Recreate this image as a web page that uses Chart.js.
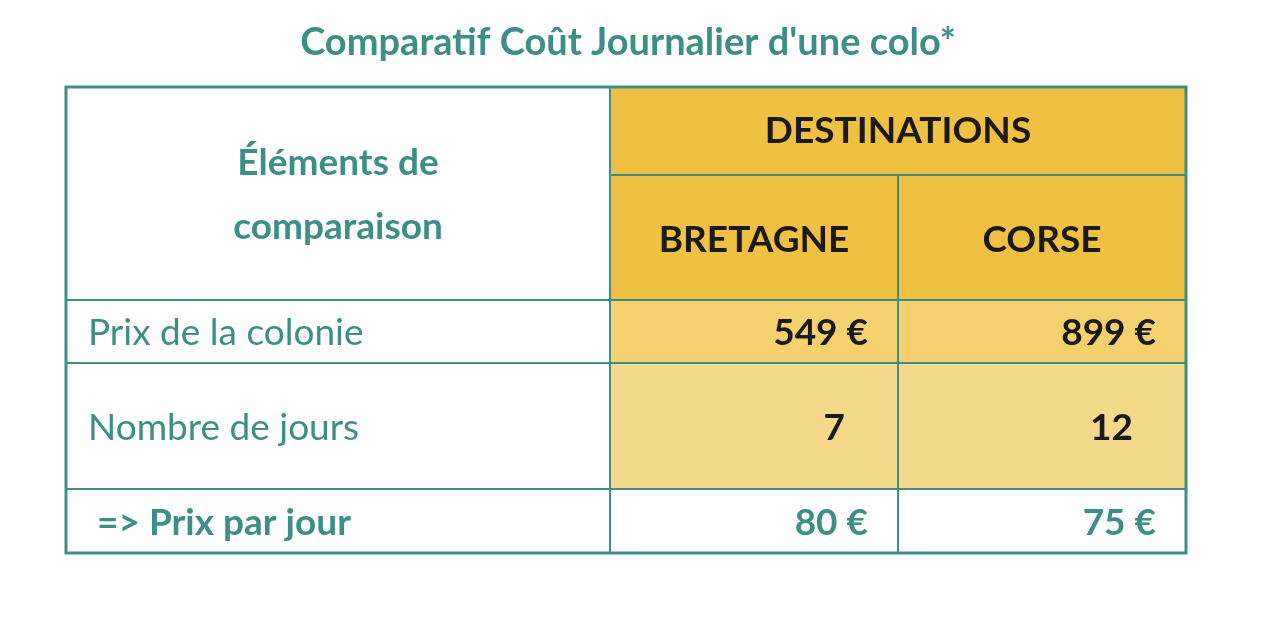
<!DOCTYPE html>
<html><head><meta charset="utf-8">
<script src="https://cdn.jsdelivr.net/npm/chart.js@4"></script>
<style>html,body{margin:0;background:#fff}#w{width:1280px;height:640px}</style>
</head><body><div id="w"><canvas id="c"></canvas></div>
<script>
const title = "Comparatif Coût Journalier d'une colo*";
const headerLabel = ["Éléments de", "comparaison"];
const groupLabel = "DESTINATIONS";
const destinations = ["BRETAGNE", "CORSE"];
const rowLabels = ["Prix de la colonie", "Nombre de jours", "=> Prix par jour"];
const prixColonie = ["549 €", "899 €"];
const nombreJours = ["7", "12"];
const prixParJour = ["80 €", "75 €"];

const TEAL = "#3d8f86", GOLD = "#f0c043", ROW1 = "#f5d06f", ROW2 = "#f5d98b";
const colX = [66, 610, 898, 1186];
const rowY = [87, 175, 300, 363, 489, 553];
const FONT = "Lato, 'Open Sans', sans-serif";

const tablePlugin = {
  id: 'table',
  afterDraw(chart) {
    const ctx = chart.ctx, xs = chart.scales.x, ys = chart.scales.y;
    const X = v => xs.getPixelForValue(v), Y = v => ys.getPixelForValue(v);
    const rect = (x0, y0, x1, y1, fill) => { ctx.fillStyle = fill; ctx.fillRect(X(x0), Y(y0), X(x1) - X(x0), Y(y1) - Y(y0)); };
    const text = (s, x, y, size, bold, color, align) => {
      ctx.font = (bold ? "bold " : "") + size + "px " + FONT;
      ctx.fillStyle = color; ctx.textAlign = align || "center"; ctx.textBaseline = "middle";
      ctx.fillText(s, X(x), Y(y));
    };
    const line = (x0, y0, x1, y1, w) => { ctx.strokeStyle = TEAL; ctx.lineWidth = w; ctx.beginPath(); ctx.moveTo(X(x0), Y(y0)); ctx.lineTo(X(x1), Y(y1)); ctx.stroke(); };
    ctx.save();
    rect(colX[1], rowY[0], colX[3], rowY[2], GOLD);
    rect(colX[1], rowY[2], colX[3], rowY[3], ROW1);
    rect(colX[1], rowY[3], colX[3], rowY[4], ROW2);
    // grid lines
    line(colX[1], rowY[1], colX[3], rowY[1], 2);
    [2, 3, 4].forEach(r => line(colX[0], rowY[r], colX[3], rowY[r], 2));
    line(colX[1], rowY[0], colX[1], rowY[5], 2);
    line(colX[2], rowY[1], colX[2], rowY[5], 2);
    ctx.strokeStyle = TEAL; ctx.lineWidth = 3;
    ctx.strokeRect(X(colX[0]), Y(rowY[0]), X(colX[3]) - X(colX[0]), Y(rowY[5]) - Y(rowY[0]));
    // texts
    text(title, 628, 43, 38, true, TEAL);
    text(headerLabel[0], 338, 163, 37, true, TEAL);
    text(headerLabel[1], 338, 227, 37, true, TEAL);
    text(groupLabel, 898, 131, 37, true, "#1a1a1a");
    destinations.forEach((d, i) => text(d, (colX[i + 1] + colX[i + 2]) / 2, 240, 37, true, "#1a1a1a"));
    text(rowLabels[0], 88, 333, 37, false, TEAL, "left");
    text(rowLabels[1], 88, 428, 37, false, TEAL, "left");
    text(rowLabels[2], 97, 523, 37, true, TEAL, "left");
    const rightEnds = [868, 1156];
    prixColonie.forEach((v, i) => text(v, rightEnds[i], 333, 37, true, "#1a1a1a", "right"));
    const dayEnds = [845, 1133];
    nombreJours.forEach((v, i) => text(v, dayEnds[i], 428, 37, true, "#1a1a1a", "right"));
    prixParJour.forEach((v, i) => text(v, rightEnds[i], 523, 37, true, TEAL, "right"));
    ctx.restore();
  }
};

new Chart(document.getElementById('c'), {
  type: 'scatter',
  data: { datasets: [{ data: [] }] },
  options: {
    responsive: true, maintainAspectRatio: false, animation: false,
    layout: { padding: 0 },
    plugins: { legend: { display: false }, tooltip: { enabled: false } },
    scales: {
      x: { type: 'linear', min: 0, max: 1280, display: false },
      y: { type: 'linear', min: 0, max: 640, reverse: true, display: false }
    }
  },
  plugins: [tablePlugin]
});
</script></body></html>
